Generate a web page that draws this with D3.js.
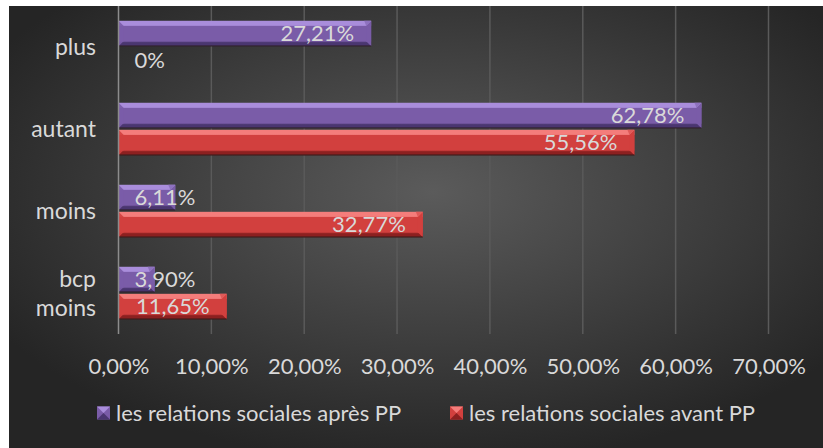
<!DOCTYPE html>
<head>
    <meta charset="utf-8">
    <title>Relations sociales</title>
    <script src="https://d3js.org/d3.v7.min.js"></script>
    <style>
        body { margin: 0; background: #fff; }
        .label { font-family: Lato, "Open Sans", sans-serif; fill: #d9d9d9; }
    </style>
</head>
<body>
    <svg id="chart" width="823" height="448"></svg>
    <script>
        // categories top to bottom
        var categories = ["plus", "autant", "moins", "bcp moins"];
        var series = ["les relations sociales après PP", "les relations sociales avant PP"];
        var apres = [27.21, 62.78, 6.11, 3.90];
        var avant = [0, 55.56, 32.77, 11.65];
        var ticks = [0, 10, 20, 30, 40, 50, 60, 70];

        var data = categories.map(function (c, i) {
            return { cat: c, values: [apres[i], avant[i]] };
        });

        var svg = d3.select("#chart");
        var fmt = function (v) { return v.toFixed(2).replace(".", ",") + "%"; };
        var fmtLabel = function (v) { return v === 0 ? "0%" : fmt(v); };
        var fs = 22;

        var defs = svg.append("defs");
        var bg = defs.append("radialGradient").attr("id", "bg")
            .attr("cx", "52%").attr("cy", "42%").attr("r", "62%");
        bg.append("stop").attr("offset", "0%").attr("stop-color", "#5b5b5b");
        bg.append("stop").attr("offset", "100%").attr("stop-color", "#252525");

        var palettes = [
            { main: "#7a5ca8", light: "#a98ddb", dark: "#4a3670", end: "#8e72bf" },
            { main: "#d2403e", light: "#f47d7b", dark: "#8c2020", end: "#e05a58" }
        ];
        palettes.forEach(function (p, i) {
            var g = defs.append("linearGradient").attr("id", "bar" + i)
                .attr("x1", 0).attr("x2", 0).attr("y1", 0).attr("y2", 1);
            g.append("stop").attr("offset", "0%").attr("stop-color", p.light);
            g.append("stop").attr("offset", "18%").attr("stop-color", p.light);
            g.append("stop").attr("offset", "22%").attr("stop-color", p.main);
            g.append("stop").attr("offset", "80%").attr("stop-color", p.main);
            g.append("stop").attr("offset", "86%").attr("stop-color", p.dark);
            g.append("stop").attr("offset", "100%").attr("stop-color", p.dark);
        });

        svg.append("rect").attr("x", 9).attr("y", 6).attr("width", 814).attr("height", 442)
            .attr("fill", "url(#bg)");

        var x = d3.scaleLinear().domain([0, 70]).range([118.5, 768.5]);
        var y0 = d3.scaleBand().domain(categories).range([6, 334])
            .paddingInner(0.36).paddingOuter(0.18);
        var y1 = d3.scaleBand().domain([0, 1]).range([0, y0.bandwidth()]).paddingInner(0.06);

        // gridlines
        svg.append("g").selectAll("line").data(ticks.slice(1)).enter().append("line")
            .attr("x1", function (d) { return x(d); }).attr("x2", function (d) { return x(d); })
            .attr("y1", 6).attr("y2", 334)
            .attr("stroke", "#5a5a5a").attr("stroke-width", 1.5);

        // x axis tick labels
        var xAxis = d3.axisBottom(x).tickValues(ticks).tickFormat(fmt).tickSize(0).tickPadding(0);
        var xg = svg.append("g").attr("transform", "translate(0,366)").call(xAxis);
        xg.select(".domain").remove();
        xg.selectAll("text").attr("class", "label").attr("font-size", fs).attr("fill", null)
            .attr("y", 0).attr("dy", "0.36em");

        // bars
        var groups = svg.append("g").selectAll("g").data(data).enter().append("g")
            .attr("transform", function (d) { return "translate(0," + y0(d.cat) + ")"; });

        var bars = groups.selectAll("g.bar").data(function (d) {
            return d.values.map(function (v, i) { return { v: v, s: i }; });
        }).enter().append("g").attr("class", "bar");

        bars.filter(function (d) { return d.v > 0; }).each(function (d) {
            var g = d3.select(this);
            var p = palettes[d.s];
            var x0 = x(0), xe = x(d.v), yt = y1(d.s), h = y1.bandwidth(), b = 5;
            g.append("rect").attr("x", x0).attr("y", yt).attr("width", xe - x0).attr("height", h)
                .attr("fill", "url(#bar" + d.s + ")");
            // right bevel
            g.append("polygon").attr("points", [[xe - b, yt + b], [xe, yt], [xe, yt + h], [xe - b, yt + h - b]].join(" "))
                .attr("fill", p.main);
            g.append("polygon").attr("points", [[xe - b, yt + b], [xe, yt], [xe - b - 2, yt]].join(" "))
                .attr("fill", p.end);
            // left bevel
            g.append("polygon").attr("points", [[x0, yt], [x0 + b, yt + b], [x0 + b, yt + h - b], [x0, yt + h]].join(" "))
                .attr("fill", p.main).attr("opacity", 0.9);
            g.append("rect").attr("x", x0).attr("y", yt + h - 1).attr("width", xe - x0).attr("height", 1.5)
                .attr("fill", "#2a1a1a").attr("opacity", 0.6);
        });

        // data labels
        bars.append("text").attr("class", "label").attr("font-size", fs)
            .attr("y", function (d) { return y1(d.s) + y1.bandwidth() / 2; })
            .attr("dy", "0.36em")
            .text(function (d) { return fmtLabel(d.v); })
            .each(function (d) {
                var w = this.getComputedTextLength();
                var xr = x(d.v) - 17;
                var xs = Math.max(x(0) + 16, xr - w);
                d3.select(this).attr("x", xs);
            });

        // category axis
        svg.append("line").attr("x1", x(0)).attr("x2", x(0)).attr("y1", 6).attr("y2", 334)
            .attr("stroke", "#8c8c8c").attr("stroke-width", 1.5);

        var cats = svg.append("g").selectAll("text").data(categories).enter().append("text")
            .attr("class", "label").attr("font-size", 23).attr("text-anchor", "end")
            .attr("x", 96)
            .attr("y", function (d) { return y0(d) + y0.bandwidth() / 2; });
        cats.each(function (d) {
            var parts = d.split(" ");
            var t = d3.select(this);
            parts.forEach(function (p, i) {
                t.append("tspan").attr("x", 96)
                    .attr("dy", i === 0 ? (0.36 - (parts.length - 1) * 0.63) + "em" : "1.26em")
                    .text(p);
            });
        });

        // legend
        var legendX = [97, 450];
        var leg = svg.append("g").selectAll("g").data(series).enter().append("g")
            .attr("transform", function (d, i) { return "translate(" + legendX[i] + ",413)"; });
        leg.each(function (d, i) {
            var g = d3.select(this);
            var p = palettes[i];
            g.append("rect").attr("x", 0).attr("y", -6.5).attr("width", 13).attr("height", 13).attr("fill", p.main);
            g.append("polygon").attr("points", "0,-6.5 13,-6.5 6.5,0").attr("fill", p.light);
            g.append("polygon").attr("points", "0,6.5 13,6.5 6.5,0").attr("fill", p.dark);
            g.append("text").attr("class", "label").attr("font-size", fs)
                .attr("x", 19).attr("dy", "0.36em").text(d);
        });
    </script>
</body>
